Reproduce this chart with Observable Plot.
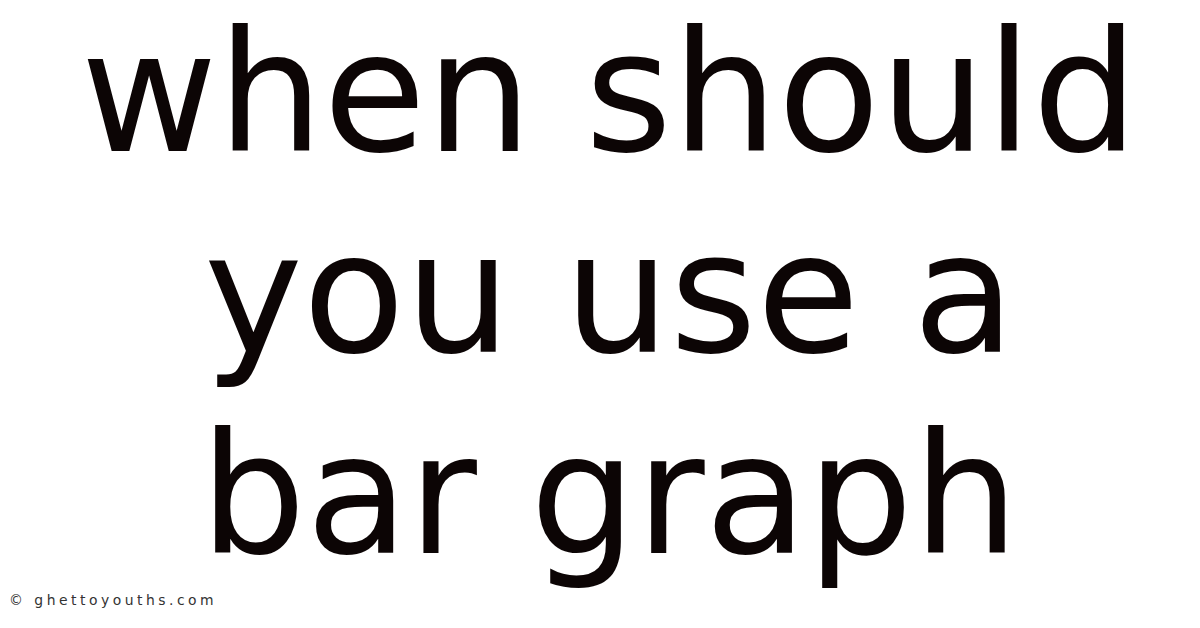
<!DOCTYPE html>
<html>
<head>
<meta charset="utf-8">
<script src="https://cdn.jsdelivr.net/npm/d3@7"></script>
<script src="https://cdn.jsdelivr.net/npm/@observablehq/plot@0.6"></script>
<style>
  html, body { margin: 0; padding: 0; background: #ffffff; }
  #wrap { position: relative; width: 1200px; height: 628px; overflow: hidden; }
  #credit { position: absolute; left: 9px; top: 592px; font-family: "DejaVu Sans", sans-serif; font-size: 13.5px; letter-spacing: 3.4px; color: #333333; transform: scaleX(1.03); transform-origin: left top; }
</style>
</head>
<body>
<div id="wrap">
  <div id="chart"></div>
  <div id="credit"></div>
</div>
<script>
const titleLines = ["when should", "you use a", "bar graph"];
const lineIndex = [0, 1, 2];
const creditText = "© ghettoyouths.com";

const data = titleLines.map((t, i) => ({text: t, idx: lineIndex[i]}));

const chart = Plot.plot({
  width: 1200,
  height: 628,
  margin: 0,
  style: {background: "#ffffff", overflow: "visible"},
  x: {domain: [0, 1], range: [0, 1200], axis: null},
  y: {domain: [0, 2], range: [150, 552], axis: null},
  marks: [
    Plot.text(data, {
      x: () => 0.5,
      y: "idx",
      text: "text",
      dx: 9,
      lineAnchor: "bottom",
      textAnchor: "middle",
      fontSize: 167,
      fontFamily: "DejaVu Sans",
      fill: "#0c0505"
    })
  ]
});
document.getElementById("chart").appendChild(chart);
document.getElementById("credit").textContent = creditText;
</script>
</body>
</html>
